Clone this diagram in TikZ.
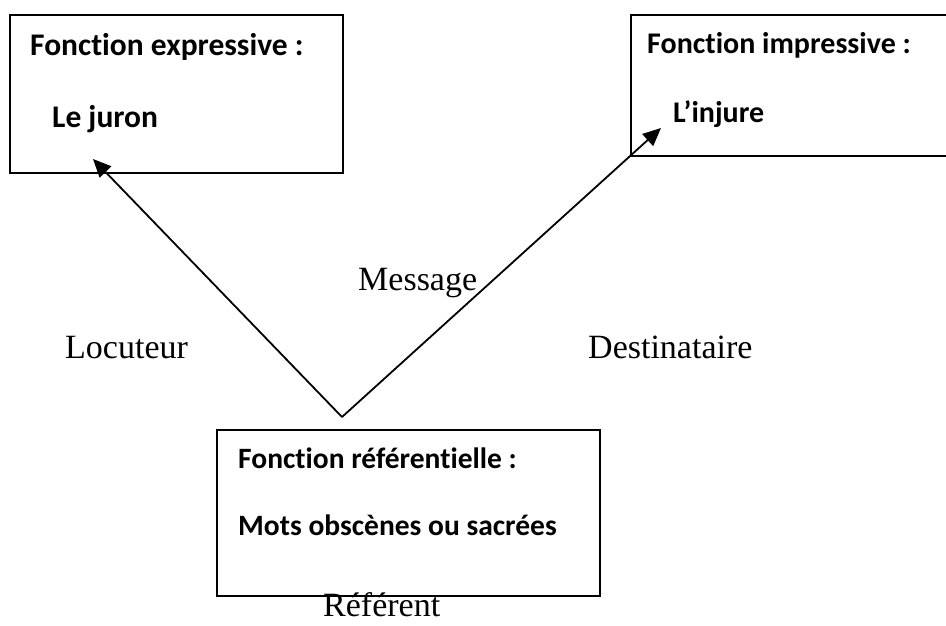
\documentclass[tikz,border=0pt]{standalone}
\usepackage{fontspec}
\setmainfont{Liberation Serif}
\newfontfamily\calib{Carlito}[Ligatures=NoCommon]
\usetikzlibrary{arrows.meta}
\tikzset{
  box/.style={draw=black, line width=2pt, anchor=north west, inner sep=0pt},
  boxtxt/.style={anchor=base west, inner sep=0pt, font=\calib\bfseries\fontsize{30}{36}\selectfont},
  lbl/.style={anchor=base west, inner sep=0pt, font=\fontsize{34}{40}\selectfont},
  conn/.style={line width=1.8pt, -{Triangle[length=18pt,width=16pt]}}
}
\begin{document}
\begin{tikzpicture}[x=1pt,y=-1pt]
\useasboundingbox[fill=white] (0,0) rectangle (946,625);
% boxes
\node[box, minimum width=333pt, minimum height=158pt] (b1) at (9,14) {};
\node[box, minimum width=340pt, minimum height=141pt] (b2) at (630,14) {};
\node[box, minimum width=383pt, minimum height=166pt] (b3) at (216,429) {};
% box texts
\node[boxtxt, font=\calib\bfseries\fontsize{31.5}{36}\selectfont] (t1a) at (30,55) {Fonction expressive :};
\node[boxtxt, font=\calib\bfseries\fontsize{31.5}{36}\selectfont] (t1b) at (52,127) {Le juron};
\node[boxtxt] (t2a) at (647,53) {Fonction impressive :};
\node[boxtxt] (t2b) at (673,122) {L’injure};
\node[boxtxt, font=\calib\bfseries\fontsize{29.5}{36}\selectfont] (t3a) at (238,468) {Fonction référentielle :};
\node[boxtxt, font=\calib\bfseries\fontsize{29.5}{36}\selectfont] (t3b) at (238,535) {Mots obscènes ou sacrées};
% labels
\node[lbl] (msg) at (358,290) {Message};
\node[lbl] (loc) at (65,358) {Locuteur};
\node[lbl] (dst) at (588,358) {Destinataire};
\node[lbl] (ref) at (323,616) {Référent};
% connectors
\coordinate (apex) at (342,417);
\coordinate (tipA) at (93,159);
\coordinate (tipB) at (661,128);
\draw[conn] (apex) -- (tipA);
\draw[conn] (apex) -- (tipB);
\end{tikzpicture}
\end{document}
